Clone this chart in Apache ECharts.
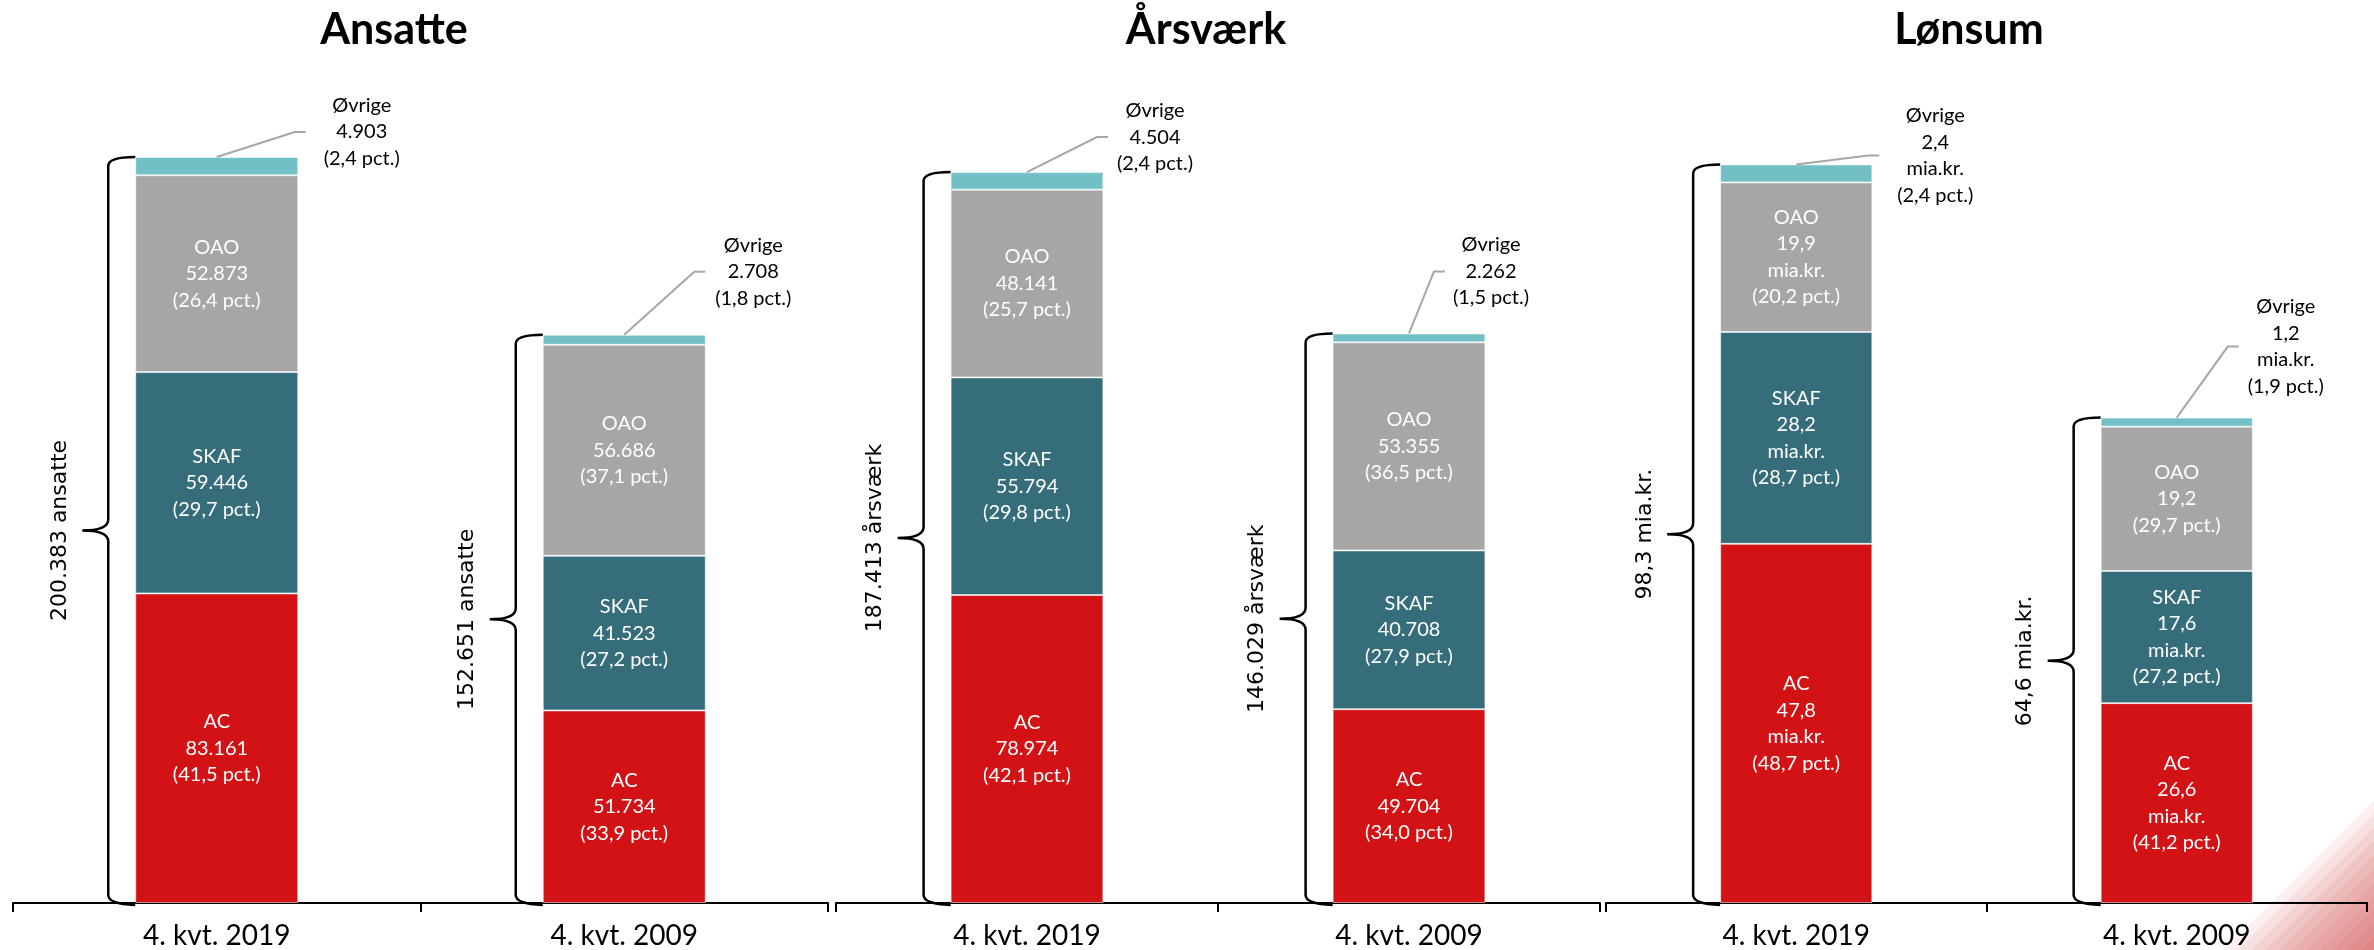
<!DOCTYPE html>
<html>
<head>
<meta charset="utf-8">
<script src="https://cdn.jsdelivr.net/npm/echarts@6/dist/echarts.min.js"></script>
<style>
  html, body { margin: 0; padding: 0; background: #fff; }
  #chart { width: 2374px; height: 950px; }
</style>
</head>
<body>
<div id="chart"></div>
<script>
// ---------- DATA ----------
const categories = ['4. kvt. 2019', '4. kvt. 2009'];
const groups = ['AC', 'SKAF', 'OAO', 'Øvrige'];
const panelTitles = ['Ansatte', 'Årsværk', 'Lønsum'];

// values per group [AC, SKAF, OAO, Øvrige]
const ansatte2019 = [83161, 59446, 52873, 4903];
const ansatte2009 = [51734, 41523, 56686, 2708];
const ansatte2019Pct = [41.5, 29.7, 26.4, 2.4];
const ansatte2009Pct = [33.9, 27.2, 37.1, 1.8];
const ansatteTotal = [200383, 152651];

const aarsvaerk2019 = [78974, 55794, 48141, 4504];
const aarsvaerk2009 = [49704, 40708, 53355, 2262];
const aarsvaerk2019Pct = [42.1, 29.8, 25.7, 2.4];
const aarsvaerk2009Pct = [34.0, 27.9, 36.5, 1.5];
const aarsvaerkTotal = [187413, 146029];

const loensum2019 = [47.8, 28.2, 19.9, 2.4];
const loensum2009 = [26.6, 17.6, 19.2, 1.2];
const loensum2019Pct = [48.7, 28.7, 20.2, 2.4];
const loensum2009Pct = [41.2, 27.2, 29.7, 1.9];
const loensumTotal = [98.3, 64.6];
// whether the "mia.kr." line is printed in each segment label
const loensum2019UnitLine = [true, true, true, true];
const loensum2009UnitLine = [true, true, false, true];

const totalUnits = ['ansatte', 'årsværk', 'mia.kr.'];
const yMax = [220000, 210000, 109];

// ---------- STYLE / LAYOUT ----------
const colors = ['#D31216', '#356D7A', '#A6A6A6', '#72C0C6'];
const gridBoxes = [
  { left: 13, width: 815 },
  { left: 836, width: 764 },
  { left: 1606, width: 761 }
];
const titleX = [394, 1206, 1969];
// callout offsets per panel per bar: [elbowDx, elbowDy, labelDx]
const calloutLayout = [
  [[78, -25, 145], [70, -63, 129]],
  [[70, -35, 128], [25, -62, 82]],
  [[72, -9, 139], [51, -71, 109]]
];

const panels = [
  { v: [ansatte2019, ansatte2009], pct: [ansatte2019Pct, ansatte2009Pct], total: ansatteTotal, dec: false, unitLines: null },
  { v: [aarsvaerk2019, aarsvaerk2009], pct: [aarsvaerk2019Pct, aarsvaerk2009Pct], total: aarsvaerkTotal, dec: false, unitLines: null },
  { v: [loensum2019, loensum2009], pct: [loensum2019Pct, loensum2009Pct], total: loensumTotal, dec: true, unitLines: [loensum2019UnitLine, loensum2009UnitLine] }
];

function fmtInt(n) { return String(Math.round(n)).replace(/\B(?=(\d{3})+(?!\d))/g, '.'); }
function fmtDec(n) { return n.toFixed(1).replace('.', ','); }
function segLabel(p, g, i) {
  const P = panels[p];
  const val = P.dec ? fmtDec(P.v[i][g]) : fmtInt(P.v[i][g]);
  const lines = [groups[g], val];
  if (P.unitLines && P.unitLines[i][g]) lines.push('mia.kr.');
  lines.push('(' + fmtDec(P.pct[i][g]) + ' pct.)');
  return lines.join('\n');
}

const LABEL_FONT = 'Lato, "Open Sans", sans-serif';

const grid = [], xAxis = [], yAxis = [], series = [];
panels.forEach(function (P, p) {
  grid.push({ left: gridBoxes[p].left, width: gridBoxes[p].width, top: 84, bottom: 46 });
  xAxis.push({
    type: 'category', gridIndex: p, data: categories,
    axisLine: { lineStyle: { color: '#000', width: 2 } },
    axisTick: { show: true, length: 9, lineStyle: { color: '#000', width: 2 } },
    axisLabel: { color: '#000', fontSize: 28, fontFamily: LABEL_FONT, margin: 19 }
  });
  yAxis.push({ type: 'value', gridIndex: p, min: 0, max: yMax[p], show: false, splitLine: { show: false } });

  for (let g = 0; g < 4; g++) {
    series.push({
      type: 'bar', name: groups[g], xAxisIndex: p, yAxisIndex: p, stack: 'p' + p,
      barWidth: '40%',
      data: [P.v[0][g], P.v[1][g]],
      itemStyle: { color: colors[g], borderColor: 'rgba(255,255,255,0.55)', borderWidth: 1 },
      label: g < 3 ? {
        show: true, position: 'inside', color: '#fff', fontSize: 20, lineHeight: 26.5,
        fontFamily: LABEL_FONT,
        formatter: function (prm) { return segLabel(p, g, prm.dataIndex); }
      } : { show: false },
      emphasis: { disabled: true }
    });
  }

  const sums = [0, 1].map(function (i) { return P.v[i].reduce(function (a, b) { return a + b; }, 0); });

  // curly braces with totals
  series.push({
    type: 'custom', xAxisIndex: p, yAxisIndex: p, z: 5, silent: true,
    data: [[0, sums[0]], [1, sums[1]]],
    encode: { x: 0, y: 1 },
    renderItem: function (params, api) {
      const idx = api.value(0), tot = api.value(1);
      const top = api.coord([idx, tot]);
      const base = api.coord([idx, 0]);
      const bw = api.size([1, 0])[0] * 0.4;
      const xL = top[0] - bw / 2;
      const v = xL - 27, tip = xL - 53;
      const yT = top[1], yB = base[1] + 1, ym = (yT + yB) / 2;
      const d = 'M' + xL + ',' + yT + ' Q' + v + ',' + yT + ' ' + v + ',' + (yT + 9) +
        ' L' + v + ',' + (ym - 11) + ' Q' + v + ',' + ym + ' ' + tip + ',' + ym +
        ' Q' + v + ',' + ym + ' ' + v + ',' + (ym + 11) +
        ' L' + v + ',' + (yB - 9) + ' Q' + v + ',' + yB + ' ' + xL + ',' + (yB + 1);
      const t = P.total[params.dataIndex];
      const txt = (P.dec ? fmtDec(t) : fmtInt(t)) + ' ' + totalUnits[p];
      return {
        type: 'group',
        children: [
          { type: 'path', shape: { pathData: d }, style: { fill: 'none', stroke: '#000', lineWidth: 2.5 } },
          {
            type: 'text', x: tip - 22, y: ym, rotation: Math.PI / 2,
            style: { text: txt, fill: '#000', fontSize: 22, fontFamily: '"DejaVu Sans", Verdana, sans-serif', align: 'center', verticalAlign: 'middle' }
          }
        ]
      };
    }
  });

  // Øvrige callouts
  series.push({
    type: 'custom', xAxisIndex: p, yAxisIndex: p, z: 5, silent: true,
    data: [[0, sums[0]], [1, sums[1]]],
    encode: { x: 0, y: 1 },
    renderItem: function (params, api) {
      const i = params.dataIndex;
      const top = api.coord([api.value(0), api.value(1)]);
      const off = calloutLayout[p][i];
      const cx = top[0], yT = top[1];
      const ex = cx + off[0], ey = yT + off[1];
      return {
        type: 'group',
        children: [
          { type: 'polyline', shape: { points: [[cx, yT], [ex, ey], [ex + 11, ey]] }, style: { fill: 'none', stroke: '#A6A6A6', lineWidth: 2 } },
          {
            type: 'text', x: cx + off[2], y: ey,
            style: { text: segLabel(p, 3, i), fill: '#000', fontSize: 20, lineHeight: 26.5, fontFamily: LABEL_FONT, align: 'center', verticalAlign: 'middle' }
          }
        ]
      };
    }
  });
});

// decorative corner stripes + titles
const graphic = [];
for (let k = 0; k < 11; k++) {
  const s = 1 - k / 11;
  graphic.push({
    type: 'polygon', z: -10, silent: true,
    shape: { points: [[2374 - 150 * s, 950], [2374, 950 - 150 * s], [2374, 950]] },
    style: { fill: 'rgba(205,65,65,0.085)' }
  });
}
panelTitles.forEach(function (t, p) {
  graphic.push({
    type: 'text', x: titleX[p], y: 30, z: 10,
    style: { text: t, fill: '#000', fontSize: 43, fontWeight: 'bold', fontFamily: 'Lato, sans-serif', align: 'center', verticalAlign: 'middle' }
  });
});

const chart = echarts.init(document.getElementById('chart'), null, { renderer: 'canvas' });
chart.setOption({
  backgroundColor: '#fff',
  animation: false,
  grid: grid, xAxis: xAxis, yAxis: yAxis, series: series, graphic: graphic
});
</script>
</body>
</html>
